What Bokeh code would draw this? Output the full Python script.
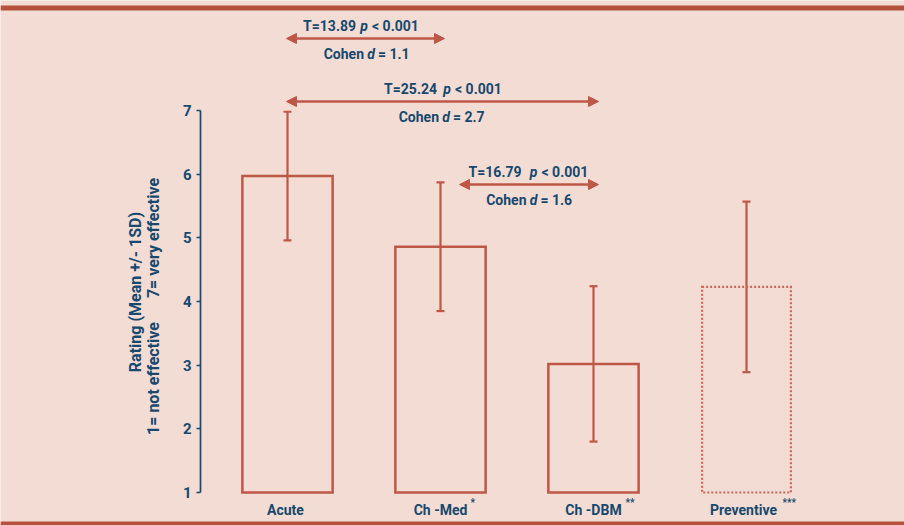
from math import pi
from bokeh.plotting import figure
from bokeh.models import (Range1d, ColumnDataSource, Whisker, TeeHead, Arrow,
                          NormalHead, Span, FixedTicker, LinearAxis)
from bokeh.core.properties import value
from bokeh.embed import file_html
from bokeh.resources import INLINE

# ---------------- data ----------------
categories = ["Acute", "Ch -Med", "Ch -DBM", "Preventive"]
category_marks = ["", "*", "**", "***"]
mean_rating = [5.97, 4.86, 3.02, 4.23]
sd_rating = [1.01, 1.01, 1.22, 1.34]
y_ticks = [1, 2, 3, 4, 5, 6, 7]
cmp_left = ["Acute", "Acute", "Ch -Med"]
cmp_right = ["Ch -Med", "Ch -DBM", "Ch -DBM"]
cmp_t = ["13.89", "25.24", "16.79"]
cmp_p = ["0.001", "0.001", "0.001"]
cmp_d = ["1.1", "2.7", "1.6"]
y_title = "Rating (Mean +/- 1SD)"
y_low_label = "1= not effective"
y_high_label = "7= very effective"

# ---------------- style ----------------
BG = "#F3DCD3"
RED = "#BF5747"
RED_LIGHT = "#C8675A"
BAND = "#B4523D"
NAVY = "#17486E"
FONT_NAME = "Roboto"
FONT = value(FONT_NAME)
W, H = 904, 525
PX_X, PX_Y = 153.0, 63.67      # pixels per data unit
ORG_X, ORG_Y = 287.0, 110.0    # pixel of x=0 and y=7


def fx(px):   # pixel -> data x
    return (px - ORG_X) / PX_X


def fy(py):   # pixel -> data y
    return 7 - (py - ORG_Y) / PX_Y


p = figure(width=W, height=H, output_backend="svg", toolbar_location=None,
           x_range=Range1d(fx(0), fx(W)), y_range=Range1d(fy(H), fy(0)),
           x_axis_location=None, y_axis_location=None, min_border=0,
           background_fill_color=BG, border_fill_color=BG,
           outline_line_color=None)
p.grid.visible = False

idx = list(range(len(categories)))
pos = {c: i for i, c in enumerate(categories)}

# bands
p.add_layout(Span(location=fy(7.5), dimension="width", line_color=BAND, line_width=5))
p.add_layout(Span(location=fy(523), dimension="width", line_color=BAND, line_width=4))

# y axis
yaxis = LinearAxis(fixed_location=fx(200), bounds=(1, 7),
                   ticker=FixedTicker(ticks=y_ticks),
                   axis_line_color=NAVY, axis_line_width=1.7,
                   major_tick_line_color=NAVY, major_tick_line_width=1.7,
                   major_tick_out=4, major_tick_in=0, minor_tick_line_color=None,
                   major_label_text_font=FONT_NAME, major_label_text_font_style="bold",
                   major_label_text_font_size="15px", major_label_text_color=NAVY,
                   major_label_standoff=5)
p.add_layout(yaxis, "left")

# bars
solid = [i for i in idx if categories[i] != "Preventive"]
dotted = [i for i in idx if categories[i] == "Preventive"]
p.vbar(x=[idx[i] for i in solid], top=[mean_rating[i] for i in solid], bottom=1,
       width=0.59, fill_color=None, line_color=RED, line_width=2.5, line_join="miter")
p.vbar(x=[idx[i] for i in dotted], top=[mean_rating[i] for i in dotted], bottom=1,
       width=0.58, fill_color=None, line_color=RED_LIGHT, line_width=2.2,
       line_dash="2 2", line_join="miter")

# error bars
err = ColumnDataSource(dict(x=idx,
                            upper=[m + s for m, s in zip(mean_rating, sd_rating)],
                            lower=[m - s for m, s in zip(mean_rating, sd_rating)]))
p.add_layout(Whisker(source=err, base="x", upper="upper", lower="lower",
                     line_color=RED, line_width=2.2,
                     upper_head=TeeHead(size=8, line_color=RED, line_width=2.2),
                     lower_head=TeeHead(size=8, line_color=RED, line_width=2.2)))

# category labels
lab_dx = [-2, 0, 0, -3]
sup_dx = [0, 30, 32, 36]
p.text(x=idx, y=[1] * len(idx), text=categories, x_offset=lab_dx, y_offset=17,
       text_align="center", text_baseline="middle", text_font=FONT,
       text_font_style="bold", text_font_size="14px", text_color=NAVY)
p.text(x=idx, y=[1] * len(idx), text=category_marks, x_offset=sup_dx, y_offset=10,
       text_align="left", text_baseline="middle", text_font=FONT,
       text_font_style="bold", text_font_size="10px", text_color=NAVY)

# y titles
p.text(x=[fx(135)], y=[fy(291.5)], text=[y_title], angle=pi / 2,
       text_align="center", text_baseline="middle", text_font=FONT,
       text_font_style="bold", text_font_size="16px", text_color=NAVY)
p.text(x=[fx(153)] * 2, y=[fy(378), fy(237.5)],
       text=[y_low_label, y_high_label], angle=pi / 2,
       text_align="center", text_baseline="middle", text_font=FONT,
       text_font_style="bold", text_font_size="16px", text_color=NAVY)

# comparison arrows
arrow_y_px = [38, 101, 184]
start_dx = [-1, -1, 19]
end_dx = [4, 5, 5]
p_dx = [-1.5, 4.5, 4.5]
d_dx = [5.5, 3.5, 4.5]
t_gap = [8, 10, 12]
for k in range(len(cmp_t)):
    xs = pos[cmp_left[k]] + start_dx[k] / PX_X
    xe = pos[cmp_right[k]] + end_dx[k] / PX_X
    ya = fy(arrow_y_px[k])
    p.add_layout(Arrow(x_start=xs, y_start=ya, x_end=xe, y_end=ya,
                       line_color=RED, line_width=2.6,
                       start=NormalHead(size=10, fill_color=RED, line_color=RED, line_width=1),
                       end=NormalHead(size=10, fill_color=RED, line_color=RED, line_width=1)))
    xm = (xs + xe) / 2
    common = dict(text_baseline="middle", text_font=FONT, text_font_size="14px",
                  text_color=NAVY)
    p.text(x=[xm], y=[ya], text=["T=" + cmp_t[k]], x_offset=p_dx[k] - t_gap[k],
           y_offset=-13, text_align="right", text_font_style="bold", **common)
    p.text(x=[xm], y=[ya], text=["p"], x_offset=p_dx[k], y_offset=-13,
           text_align="center", text_font_style="bold italic", **common)
    p.text(x=[xm], y=[ya], text=["< " + cmp_p[k]], x_offset=p_dx[k] + 8,
           y_offset=-13, text_align="left", text_font_style="bold", **common)
    p.text(x=[xm], y=[ya], text=["Cohen"], x_offset=d_dx[k] - 7, y_offset=15,
           text_align="right", text_font_style="bold", **common)
    p.text(x=[xm], y=[ya], text=["d"], x_offset=d_dx[k], y_offset=15,
           text_align="center", text_font_style="bold italic", **common)
    p.text(x=[xm], y=[ya], text=["= " + cmp_d[k]], x_offset=d_dx[k] + 7,
           y_offset=15, text_align="left", text_font_style="bold", **common)

open("out.html", "w").write(file_html(p, INLINE))
